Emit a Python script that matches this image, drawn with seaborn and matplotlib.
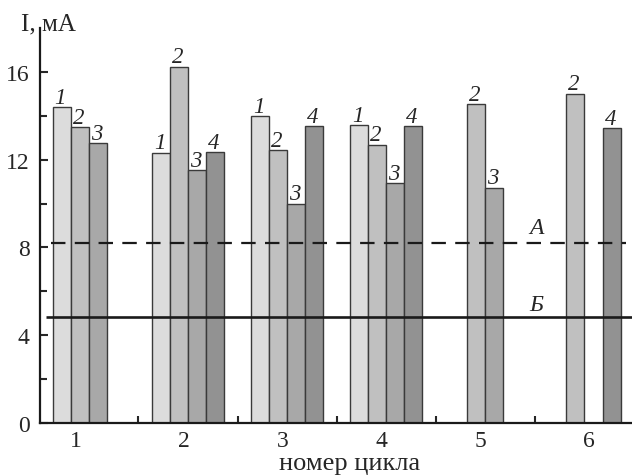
import numpy as np
import pandas as pd
import matplotlib
matplotlib.use("Agg")
import matplotlib.pyplot as plt
from matplotlib.ticker import FixedLocator
import seaborn as sns

# Current per cycle, for each of the four series (NaN = not measured)
cycles = ["1", "2", "3", "4", "5", "6"]
series = ["1", "2", "3", "4"]
current_s1 = [14.39, 12.32, 14.00, 13.58, np.nan, np.nan]
current_s2 = [13.48, 16.24, 12.44, 12.69, 14.52, 15.01]
current_s3 = [12.75, 11.52, 10.00, 10.95, 10.73, np.nan]
current_s4 = [np.nan, 12.35, 13.52, 13.52, np.nan, 13.43]
level_a = 8.19
level_b = 4.83

bar_colors = ["#dcdcdc", "#c0c0c0", "#a8a8a8", "#929292"]

rows = []
for s, vals in zip(series, [current_s1, current_s2, current_s3, current_s4]):
    for c, v in zip(cycles, vals):
        if not np.isnan(v):
            rows.append({"cycle": c, "series": s, "I": v})
df = pd.DataFrame(rows)

sns.set_style("ticks")
plt.rcParams["font.family"] = ["Liberation Serif", "DejaVu Serif"]

W, H = 632, 477
fig = plt.figure(figsize=(W / 100, H / 100), dpi=100)
ax = fig.add_axes([39.5 / W, 1 - 424 / H, (W - 39.5) / W, (424 - 29) / H])

group_w = 0.731
sns.barplot(data=df, x="cycle", y="I", hue="series", order=cycles,
            hue_order=series, palette=bar_colors, width=group_w,
            dodge=True, edgecolor="#3a3a3a", linewidth=1.0,
            saturation=1, legend=False, ax=ax, errorbar=None)

ax.set_xlim(-0.499, 5.48)
ax.set_ylim(0, 18)

# Series number above each bar
for cont, s in zip(ax.containers, series):
    for rect in cont:
        h = rect.get_height()
        if np.isnan(h) or h == 0:
            continue
        ax.annotate(s, (rect.get_x() + rect.get_width() / 2, h),
                    xytext=(-1, 3), textcoords="offset points",
                    ha="center", va="baseline", fontsize=16.5,
                    style="italic")

# Threshold lines
ax.hlines(level_a, -0.383, 5.415, colors="#1a1a1a", linewidth=1.6,
          linestyles=(0, (6.5, 4.2)), zorder=3)
ax.hlines(level_b, -0.433, 5.6, colors="#1a1a1a", linewidth=1.9,
          zorder=3, clip_on=False)
ax.text(4.516, 8.93, "А", ha="center", va="center", fontsize=17,
        style="italic")
ax.text(4.516, 5.38, "Б", ha="center", va="center", fontsize=17,
        style="italic")

# Axis ticks
slot = group_w / len(series)
tick_pos = []
for i in range(len(cycles)):
    present = [k for k, vals in enumerate([current_s1, current_s2,
                                           current_s3, current_s4])
               if not np.isnan(vals[i])]
    lo, hi = min(present), max(present)
    tick_pos.append(i + ((lo + hi) / 2 - 1.5) * slot - 0.045)
ax.set_xticks(tick_pos)
ax.set_xticklabels(cycles)
ax.xaxis.set_minor_locator(FixedLocator([i + 0.5 for i in range(5)]))
ax.tick_params(axis="x", which="major", length=0, pad=5, labelsize=17)
ax.tick_params(axis="x", which="minor", direction="in", length=5,
               width=1.5)

ax.set_yticks([0, 4, 8, 12, 16])
ax.yaxis.set_minor_locator(FixedLocator([2, 6, 10, 14]))
ax.tick_params(axis="y", which="major", direction="in", length=6,
               width=1.5, pad=7, labelsize=17)
ax.tick_params(axis="y", which="minor", direction="in", length=5,
               width=1.5)

for side in ["top", "right"]:
    ax.spines[side].set_visible(False)
for side in ["left", "bottom"]:
    ax.spines[side].set_linewidth(1.6)
    ax.spines[side].set_color("#1a1a1a")

ax.set_xlabel("")
ax.set_ylabel("")
fig.text(350 / W, 1 - 470 / H, "номер цикла", ha="center",
         va="baseline", fontsize=19)
fig.text(21 / W, 1 - 24 / H, "I, мА", ha="left", va="center", fontsize=18)

fig.savefig("out.png", dpi=100)
